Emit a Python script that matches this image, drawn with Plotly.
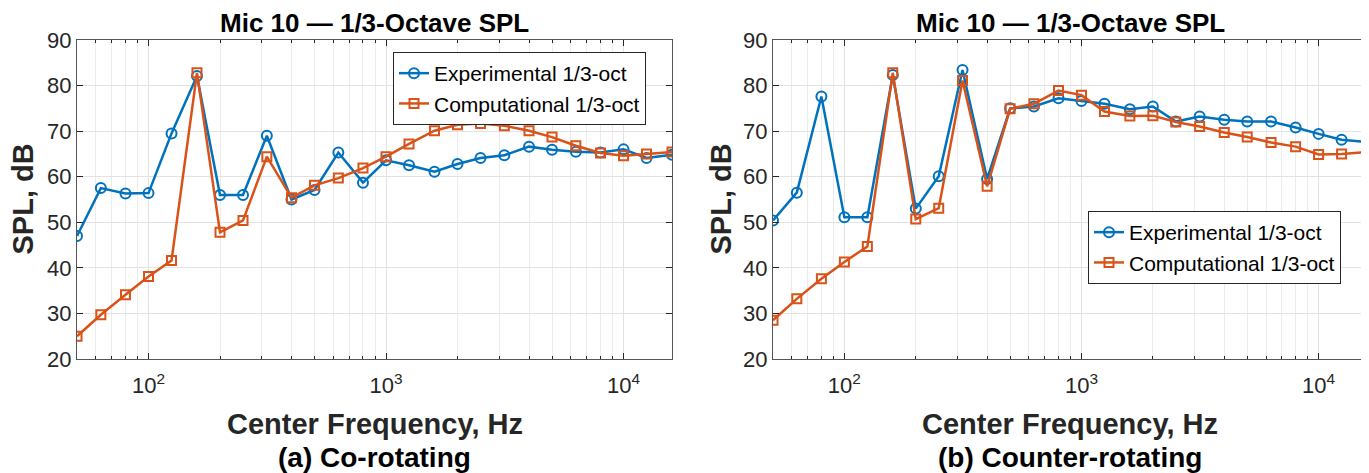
import math
import plotly.graph_objects as go

freqs = [50, 63, 80, 100, 125, 160, 200, 250, 315, 400, 500, 630, 800, 1000,
         1250, 1600, 2000, 2500, 3150, 4000, 5000, 6300, 8000, 10000, 12500, 16000]

co_exp = [47.0, 57.5, 56.3, 56.4, 69.5, 82.1, 56.0, 56.0, 69.0, 55.0, 57.1, 65.3, 58.7, 63.6,
          62.5, 61.1, 62.8, 64.1, 64.7, 66.6, 65.9, 65.5, 65.3, 66.0, 64.1, 64.8]
co_comp = [25.0, 29.7, 34.1, 38.1, 41.6, 82.8, 47.8, 50.4, 64.4, 55.4, 58.1, 59.7, 61.9, 64.4,
           67.2, 70.1, 71.4, 71.7, 71.2, 70.1, 68.7, 66.8, 65.2, 64.6, 65.0, 65.4]

ct_exp = [50.4, 56.5, 77.6, 51.1, 51.1, 82.3, 53.0, 60.1, 83.4, 59.5, 75.0, 75.4, 77.2, 76.6,
          76.0, 74.8, 75.4, 72.1, 73.2, 72.5, 72.1, 72.1, 70.8, 69.4, 68.1, 67.6]
ct_comp = [28.5, 33.2, 37.6, 41.3, 44.7, 82.8, 50.7, 53.1, 81.1, 57.9, 74.9, 76.0, 78.9, 77.9,
           74.3, 73.3, 73.4, 72.0, 71.0, 69.7, 68.7, 67.5, 66.6, 64.9, 65.0, 65.4]

major_x = [100, 1000, 10000]
major_x_text = ["10<sup>2</sup>", "10<sup>3</sup>", "10<sup>4</sup>"]
minor_x = [50, 60, 70, 80, 90, 200, 300, 400, 500, 600, 700, 800, 900,
           2000, 3000, 4000, 5000, 6000, 7000, 8000, 9000]
y_ticks = [20, 30, 40, 50, 60, 70, 80, 90]

title_text = "Mic 10 \u2014 1/3-Octave SPL"
captions = ["(a) Co-rotating", "(b) Counter-rotating"]

BLUE = "#0072BD"
ORANGE = "#D95319"
FONT = "Liberation Sans, Arial, Helvetica, sans-serif"

# page body has an 8px default margin; size the figure to fill the rest of the window
OFF = 8
W, H = 1369 - OFF, 473 - OFF


def px(x):
    return (x - OFF) / W


def py(y):
    return 1 - (y - OFF) / H


fig = go.Figure()

panels = [(co_exp, co_comp, "x", "y", "legend"), (ct_exp, ct_comp, "x2", "y2", "legend2")]
for exp, comp, xa, ya, lg in panels:
    fig.add_trace(go.Scatter(x=freqs, y=exp, xaxis=xa, yaxis=ya, legend=lg,
                             name="Experimental 1/3-oct", mode="lines+markers",
                             line=dict(color=BLUE, width=2.5),
                             marker=dict(symbol="circle-open", size=10, color=BLUE,
                                         line=dict(width=2, color=BLUE))))
    fig.add_trace(go.Scatter(x=freqs, y=comp, xaxis=xa, yaxis=ya, legend=lg,
                             name="Computational 1/3-oct", mode="lines+markers",
                             line=dict(color=ORANGE, width=2.5),
                             marker=dict(symbol="square-open", size=9, color=ORANGE,
                                         line=dict(width=2, color=ORANGE))))

xr = [math.log10(50), math.log10(16000)]


def xaxis(domain, anchor):
    return dict(type="log", range=xr, domain=domain, anchor=anchor, automargin=False,
                tickmode="array", tickvals=major_x, ticktext=major_x_text,
                ticks="inside", ticklen=6, tickcolor="#262626", mirror="allticks",
                ticklabelstandoff=7,
                showline=True, linecolor="#555555", linewidth=1,
                showgrid=True, gridcolor="#e2e2e2", gridwidth=1,
                tickfont=dict(family=FONT, size=22, color="#262626"),
                minor=dict(tickmode="array", tickvals=minor_x, ticks="inside", ticklen=3,
                           tickcolor="#262626", showgrid=True, gridcolor="#ececec", gridwidth=1),
                zeroline=False)


def yaxis(domain, anchor):
    return dict(range=[20, 90], domain=domain, anchor=anchor, automargin=False,
                tickmode="array", tickvals=y_ticks,
                ticks="inside", ticklen=6, tickcolor="#262626", mirror="allticks",
                showline=True, linecolor="#555555", linewidth=1,
                showgrid=True, gridcolor="#e2e2e2", gridwidth=1,
                tickfont=dict(family=FONT, size=22, color="#262626"),
                zeroline=False)


xd1 = [px(77), px(672)]
xd2 = [px(773), px(1367)]
yd = [py(359), py(40)]

annotations = []
for xd, cap, ytx in [(xd1, captions[0], px(22)), (xd2, captions[1], px(720))]:
    cx = (xd[0] + xd[1]) / 2
    annotations.append(dict(text="<b>" + title_text + "</b>", x=cx, y=py(23),
                            xref="paper", yref="paper", showarrow=False,
                            xanchor="center", yanchor="middle",
                            font=dict(family=FONT, size=26, color="#000000")))
    annotations.append(dict(text="<b>Center Frequency, Hz</b>", x=cx, y=py(424),
                            xref="paper", yref="paper", showarrow=False,
                            xanchor="center", yanchor="middle",
                            font=dict(family=FONT, size=29, color="#262626")))
    annotations.append(dict(text="<b>" + cap + "</b>", x=cx, y=py(457),
                            xref="paper", yref="paper", showarrow=False,
                            xanchor="center", yanchor="middle",
                            font=dict(family=FONT, size=28, color="#000000")))
    annotations.append(dict(text="<b>SPL, dB</b>", x=ytx, y=(yd[0] + yd[1]) / 2,
                            xref="paper", yref="paper", showarrow=False, textangle=-90,
                            xanchor="center", yanchor="middle",
                            font=dict(family=FONT, size=29, color="#262626")))

legend_style = dict(bgcolor="#ffffff", bordercolor="#262626", borderwidth=1,
                    font=dict(family=FONT, size=21, color="#000000"),
                    xanchor="left", yanchor="top", tracegroupgap=0)

fig.update_layout(
    width=W, height=H,
    margin=dict(l=0, r=0, t=0, b=0, autoexpand=False),
    paper_bgcolor="#ffffff", plot_bgcolor="#ffffff",
    xaxis=xaxis(xd1, "y"), yaxis=yaxis(yd, "x"),
    xaxis2=xaxis(xd2, "y2"), yaxis2=yaxis(yd, "x2"),
    legend=dict(x=px(393), y=py(52), **legend_style),
    legend2=dict(x=px(1088), y=py(211), **legend_style),
    annotations=annotations,
    showlegend=True,
)

fig.write_html("out.html")
